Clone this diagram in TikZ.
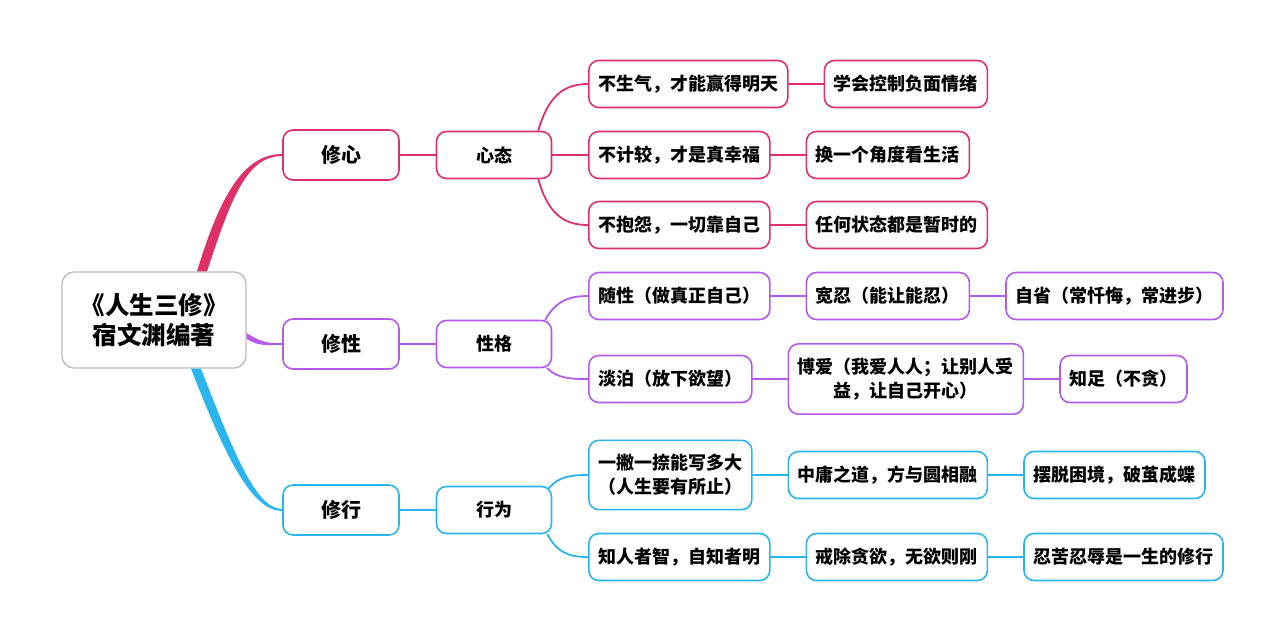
\documentclass[tikz,border=0pt]{standalone}
\usepackage{fontspec}
\setmainfont{Noto Sans CJK SC}[BoldFont={Noto Sans CJK SC Black}]
\usepackage{tikz}
\usetikzlibrary{positioning,calc}
\definecolor{mag}{HTML}{DD3168}
\definecolor{pur}{HTML}{B35BEA}
\definecolor{cya}{HTML}{2AB5EF}
\definecolor{rim}{HTML}{BDBDBD}
\tikzset{
  box/.style={draw, rounded corners=10pt, line width=1.6pt, fill=white, align=center,
    inner xsep=9.5pt, minimum height=47pt, font=\bfseries\fontsize{18}{24}\selectfont},
  root/.style={box, draw=rim, line width=1.4pt, rounded corners=12pt, minimum width=184pt,
    minimum height=96pt, font=\bfseries\fontsize{24.5}{30}\selectfont},
  hub/.style={box, draw=#1, minimum width=116pt, minimum height=50pt,
    font=\bfseries\fontsize{20}{24}\selectfont},
  sub/.style={box, draw=#1, minimum width=115pt},
  leaf/.style={box, draw=#1},
  tall/.style={inner ysep=14pt},
  link/.style={draw=#1, line width=1.8pt, line cap=round},
}
\begin{document}
\begin{tikzpicture}[x=1pt,y=-1pt]
  \useasboundingbox (0,0) rectangle (1280,642);
  \node[root] (mind) at (154,320) {《人生三修》\\宿文渊编著};
  \node[hub=mag] (xin) at (341,155) {修心};
  \node[hub=pur] (xing) at (341,344) {修性};
  \node[hub=cya] (xhang) at (341,510) {修行};
  \node[sub=mag] (xt) at (494,155) {心态};
  \node[sub=pur] (xg) at (494,344) {性格};
  \node[sub=cya] (xw) at (494,510) {行为};
  % 修心
  \node[leaf=mag, anchor=west] (a1) at (588,84) {不生气，才能赢得明天};
  \node[leaf=mag, right=35pt of a1] (a2) {学会控制负面情绪};
  \node[leaf=mag, anchor=west] (b1) at (588,155) {不计较，才是真幸福};
  \node[leaf=mag, right=35pt of b1] (b2) {换一个角度看生活};
  \node[leaf=mag, anchor=west] (c1) at (588,225) {不抱怨，一切靠自己};
  \node[leaf=mag, right=35pt of c1] (c2) {任何状态都是暂时的};
  % 修性
  \node[leaf=pur, anchor=west] (d1) at (588,296) {随性（做真正自己）};
  \node[leaf=pur, right=35pt of d1] (d2) {宽忍（能让能忍）};
  \node[leaf=pur, right=35pt of d2] (d3) {自省（常忏悔，常进步）};
  \node[leaf=pur, anchor=west] (e1) at (588,379) {淡泊（放下欲望）};
  \node[leaf=pur, tall, right=35pt of e1] (e2) {博爱（我爱人人；让别人受\\益，让自己开心）};
  \node[leaf=pur, right=35pt of e2] (e3) {知足（不贪）};
  % 修行
  \node[leaf=cya, tall, anchor=west] (f1) at (588,475) {一撇一捺能写多大\\（人生要有所止）};
  \node[leaf=cya, right=35pt of f1] (f2) {中庸之道，方与圆相融};
  \node[leaf=cya, right=35pt of f2] (f3) {摆脱困境，破茧成蝶};
  \node[leaf=cya, anchor=west] (g1) at (588,557) {知人者智，自知者明};
  \node[leaf=cya, right=35pt of g1] (g2) {戒除贪欲，无欲则刚};
  \node[leaf=cya, right=35pt of g2] (g3) {忍苦忍辱是一生的修行};
  % tapered trunks
  \fill[mag] ($(mind.north)+(43,0)$) .. controls +(22,-72) and +(-40,0) .. ($(xin.west)+(0,-1)$)
    -- ($(xin.west)+(0,1)$) .. controls +(-36,0) and +(24,-72) .. ($(mind.north)+(53,0)$) -- cycle;
  \fill[pur] ($(mind.east)+(0,13)$) .. controls +(14,9) and +(-16,0) .. ($(xing.west)+(0,-0.8)$)
    -- ($(xing.west)+(0,0.8)$) .. controls +(-16,0) and +(14,8) .. ($(mind.east)+(0,19)$) -- cycle;
  \fill[cya] ($(mind.south)+(37,0)$) .. controls +(35,90) and +(-30,0) .. ($(xhang.west)+(0,1)$)
    -- ($(xhang.west)+(0,-1)$) .. controls +(-26,0) and +(33,85) .. ($(mind.south)+(47,0)$) -- cycle;
  \draw[link=mag] (xin) -- (xt);
  \draw[link=pur] (xing) -- (xg);
  \draw[link=cya] (xhang) -- (xw);
  % branches
  \draw[link=mag] ($(xt.north east)+(-14,0)$) .. controls +(10,-35) and +(-24,0) .. (a1.west);
  \draw[link=mag] (xt.east) -- (b1.west);
  \draw[link=mag] ($(xt.south east)+(-14,0)$) .. controls +(10,35) and +(-24,0) .. (c1.west);
  \draw[link=pur] ($(xg.north east)+(-7,0)$) .. controls +(10,-18) and +(-20,0) .. (d1.west);
  \draw[link=pur] ($(xg.south east)+(-5,0)$) .. controls +(10,10) and +(-18,0) .. (e1.west);
  \draw[link=cya] ($(xw.north east)+(-4,3)$) .. controls +(10,-12) and +(-18,0) .. (f1.west);
  \draw[link=cya] ($(xw.south east)+(-5,0)$) .. controls +(10,18) and +(-20,0) .. (g1.west);
  \foreach \a/\b in {a1/a2,b1/b2,c1/c2}
    \draw[link=mag] (\a) -- (\b);
  \foreach \a/\b in {d1/d2,d2/d3,e1/e2,e2/e3}
    \draw[link=pur] (\a) -- (\b);
  \foreach \a/\b in {f1/f2,f2/f3,g1/g2,g2/g3}
    \draw[link=cya] (\a) -- (\b);
\end{tikzpicture}
\end{document}
